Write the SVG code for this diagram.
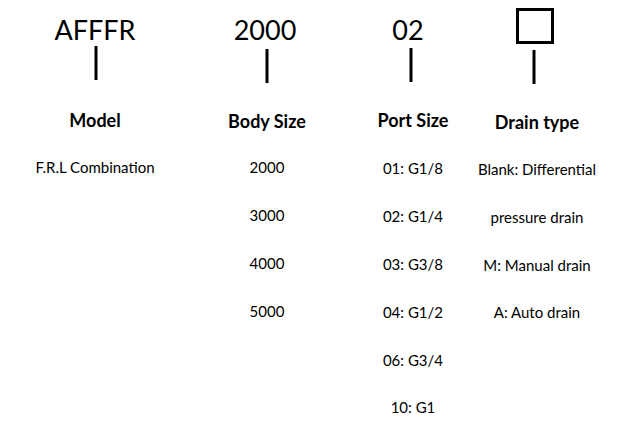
<svg xmlns="http://www.w3.org/2000/svg" width="632" height="424" viewBox="0 0 632 424">
<style>
.big{font-family:Lato,"Open Sans",sans-serif;font-size:27px;fill:#000;text-anchor:middle}
.hd{font-family:Lato,"Open Sans",sans-serif;font-size:18px;font-weight:bold;fill:#000;text-anchor:middle}
.t{font-family:Lato,"Open Sans",sans-serif;font-size:15px;fill:#000;text-anchor:middle}
.ln{stroke:#000;stroke-width:3;fill:none}
</style>
<rect width="632" height="424" fill="#fff"/>
<g id="model">
<text class="big" x="95" y="40">AFFFR</text>
<text class="hd" x="95" y="127">Model</text>
<text class="t" x="95" y="173">F.R.L Combination</text>
</g>
<g id="body-size">
<text class="big" x="265" y="40">2000</text>
<text class="hd" x="267" y="128">Body Size</text>
<text class="t" x="267" y="173">2000</text>
<text class="t" x="267" y="221">3000</text>
<text class="t" x="267" y="269">4000</text>
<text class="t" x="267" y="317">5000</text>
</g>
<g id="port-size">
<text class="big" x="408" y="40">02</text>
<text class="hd" x="413" y="127">Port Size</text>
<text class="t" x="413" y="174">01: G1/8</text>
<text class="t" x="413" y="222">02: G1/4</text>
<text class="t" x="413" y="270">03: G3/8</text>
<text class="t" x="413" y="318">04: G1/2</text>
<text class="t" x="413" y="366">06: G3/4</text>
<text class="t" x="413" y="413">10: G1</text>
</g>
<g id="drain-type">
<rect class="ln" x="517.5" y="9.5" width="35" height="33"/>
<text class="hd" x="537" y="129">Drain type</text>
<text class="t" x="537" y="175">Blank: Differential</text>
<text class="t" x="537" y="223">pressure drain</text>
<text class="t" x="537" y="271">M: Manual drain</text>
<text class="t" x="537" y="318">A: Auto drain</text>
</g>
<g id="connectors">
<line class="ln" x1="96" y1="46" x2="96" y2="80"/>
<line class="ln" x1="267" y1="49" x2="267" y2="83"/>
<line class="ln" x1="411" y1="48" x2="411" y2="82"/>
<line class="ln" x1="534" y1="50" x2="534" y2="84"/>
</g>
</svg>
